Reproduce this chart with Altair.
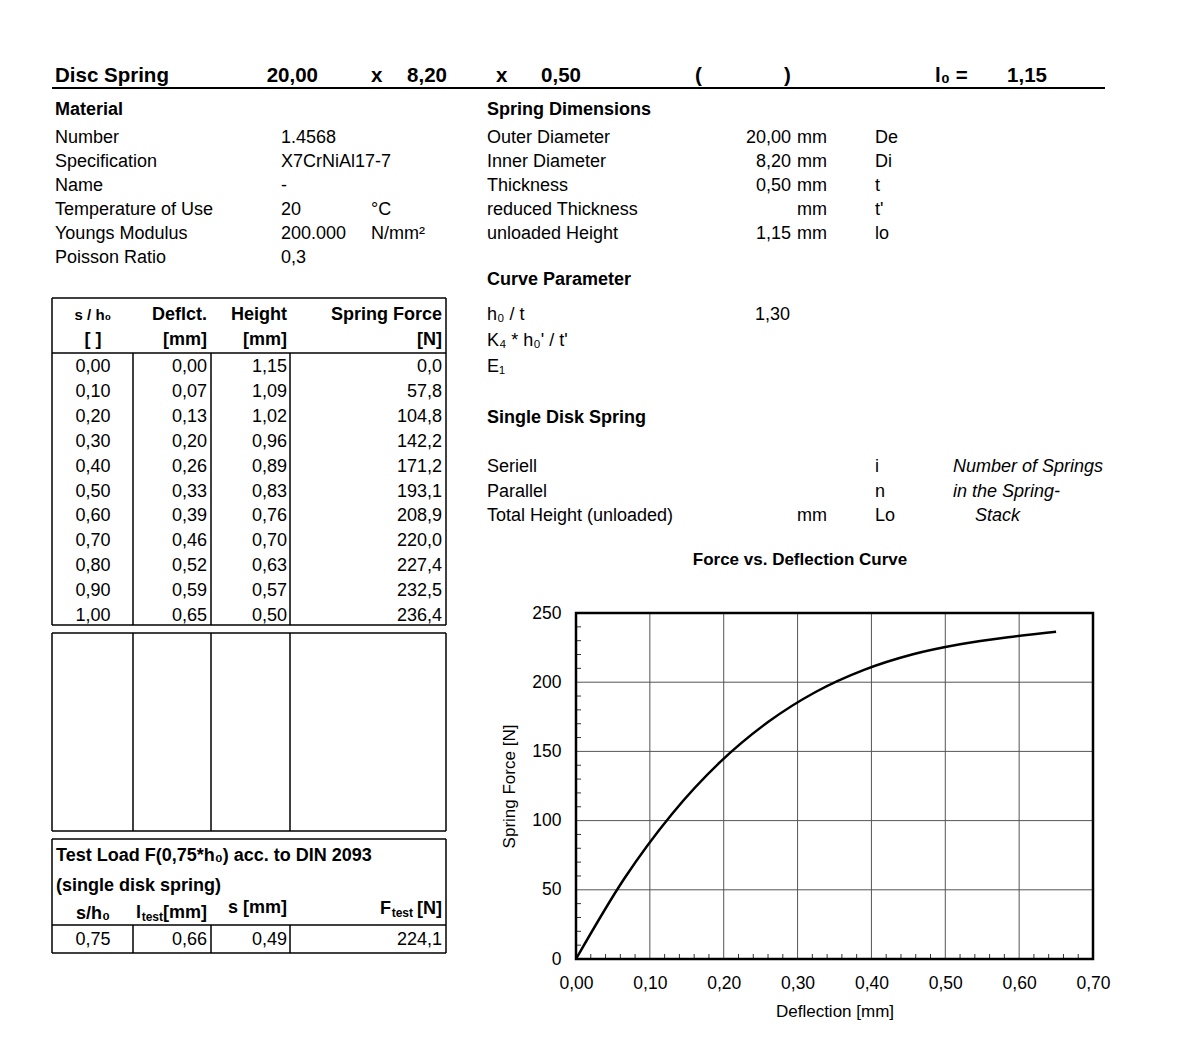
import altair as alt
import pandas as pd

FONT = "Liberation Sans"
BODY = 18

# ---------------- data ----------------
title_text = "Disc Spring"
material_labels = ["Number", "Specification", "Name", "Temperature of Use", "Youngs Modulus", "Poisson Ratio"]
material_values = ["1.4568", "X7CrNiAl17-7", "-", "20", "200.000", "0,3"]
material_units = ["", "", "", "°C", "N/mm²", ""]

dim_labels = ["Outer Diameter", "Inner Diameter", "Thickness", "reduced Thickness", "unloaded Height"]
dim_values = ["20,00", "8,20", "0,50", "", "1,15"]
dim_units = ["mm", "mm", "mm", "mm", "mm"]
dim_symbols = ["De", "Di", "t", "t'", "lo"]

curve_labels = ["h₀ / t", "K₄ * h₀' / t'", "E₁"]
curve_values = ["1,30", "", ""]

stack_labels = ["Seriell", "Parallel", "Total Height (unloaded)"]
stack_units = ["", "", "mm"]
stack_symbols = ["i", "n", "Lo"]
stack_notes = ["Number of Springs", "in the Spring-", "Stack"]

# table (rounded values as printed)
s_h0 = [0.0, 0.1, 0.2, 0.3, 0.4, 0.5, 0.6, 0.7, 0.8, 0.9, 1.0]
deflection = [0.00, 0.07, 0.13, 0.20, 0.26, 0.33, 0.39, 0.46, 0.52, 0.59, 0.65]
height = [1.15, 1.09, 1.02, 0.96, 0.89, 0.83, 0.76, 0.70, 0.63, 0.57, 0.50]
force = [0.0, 57.8, 104.8, 142.2, 171.2, 193.1, 208.9, 220.0, 227.4, 232.5, 236.4]

# curve points as drawn in the chart (unrounded deflection)
curve_deflection = [0.0, 0.065, 0.13, 0.195, 0.26, 0.325, 0.39, 0.455, 0.52, 0.585, 0.65]
curve_force = [0.0, 57.8, 104.8, 142.2, 171.2, 193.1, 208.9, 220.0, 227.4, 232.5, 236.4]

test_title = "Test Load F(0,75*h₀) acc. to DIN 2093"
test_subtitle = "(single disk spring)"
test_s_h0 = 0.75
test_l = 0.66
test_s = 0.49
test_F = 224.1

x_ticks = [0.0, 0.1, 0.2, 0.3, 0.4, 0.5, 0.6, 0.7]
y_ticks = [0, 50, 100, 150, 200, 250]
x_grid = [0.1, 0.2, 0.3, 0.4, 0.5, 0.6]
y_grid = [50, 100, 150, 200]
x_minor = [0.02, 0.04, 0.06, 0.08, 0.12, 0.14, 0.16, 0.18, 0.22, 0.24, 0.26, 0.28,
           0.32, 0.34, 0.36, 0.38, 0.42, 0.44, 0.46, 0.48, 0.52, 0.54, 0.56, 0.58,
           0.62, 0.64, 0.66, 0.68]
y_minor = [10, 20, 30, 40, 60, 70, 80, 90, 110, 120, 130, 140, 160, 170, 180, 190,
           210, 220, 230, 240]

# ---------------- layout ----------------
OX, OY = 576, 613      # page position of plot origin
W, H = 517, 346


def f2(v):
    return f"{v:.2f}".replace(".", ",")


def f1(v):
    return f"{v:.1f}".replace(".", ",")


texts = []


def add(t, x, y, align="left", weight="normal", size=BODY, style="normal"):
    if t == "":
        return
    texts.append(dict(text=t, px=x - OX, py=y - OY, align=align,
                      weight=weight, size=size, style=style))


# header line
HB = 82
HS = 20.5
add(title_text, 55, HB, weight="bold", size=HS)
add(dim_values[0], 318, HB, "right", "bold", HS)
add("x", 371, HB, "left", "bold", HS)
add(dim_values[1], 447, HB, "right", "bold", HS)
add("x", 496, HB, "left", "bold", HS)
add(dim_values[2], 581, HB, "right", "bold", HS)
add("(", 695, HB, "left", "bold", HS)
add(")", 784, HB, "left", "bold", HS)
add("l₀ =", 935, HB, "left", "bold", HS)
add(dim_values[4], 1047, HB, "right", "bold", HS)

# material block
add("Material", 55, 115, weight="bold")
for i, (lab, val, unit) in enumerate(zip(material_labels, material_values, material_units)):
    y = 143 + 24 * i
    add(lab, 55, y)
    add(val, 281, y)
    add(unit, 371, y)

# spring dimensions
add("Spring Dimensions", 487, 115, weight="bold")
for i, (lab, val, unit, sym) in enumerate(zip(dim_labels, dim_values, dim_units, dim_symbols)):
    y = 143 + 24 * i
    add(lab, 487, y)
    add(val, 791, y, "right")
    add(unit, 797, y)
    add(sym, 875, y)

# curve parameter
add("Curve Parameter", 487, 285, weight="bold")
for i, (lab, val) in enumerate(zip(curve_labels, curve_values)):
    y = 320 + 26 * i
    add(lab, 487, y)
    add(val, 790, y, "right")

# single disk spring
add("Single Disk Spring", 487, 423, weight="bold")
for i, (lab, unit, sym, note) in enumerate(zip(stack_labels, stack_units, stack_symbols, stack_notes)):
    y = 472 + 24.5 * i
    add(lab, 487, y)
    add(unit, 797, y)
    add(sym, 875, y)
    add(note, 975 if i == 2 else 953, y, style="italic")

add("Force vs. Deflection Curve", 800, 565, "center", "bold", 17)

# main table
add("s / h₀", 93, 320, "center", "bold", 15)
add("Deflct.", 207, 320, "right", "bold")
add("Height", 287, 320, "right", "bold")
add("Spring Force", 442, 320, "right", "bold")
add("[ ]", 93, 345, "center", "bold")
add("[mm]", 207, 345, "right", "bold")
add("[mm]", 287, 345, "right", "bold")
add("[N]", 442, 345, "right", "bold")
for i in range(len(s_h0)):
    y = 372 + 24.9 * i
    add(f2(s_h0[i]), 93, y, "center")
    add(f2(deflection[i]), 207, y, "right")
    add(f2(height[i]), 287, y, "right")
    add(f1(force[i]), 442, y, "right")

# test load table
add(test_title, 56, 861, weight="bold")
add(test_subtitle, 56, 891, weight="bold")
add("s/h₀", 93, 919, "center", "bold")
add("l", 141, 918, "right", "bold")
add("test", 163, 921, "right", "bold", 12)
add("[mm]", 207, 918, "right", "bold")
add("s [mm]", 287, 913, "right", "bold")
add("F", 391, 914, "right", "bold")
add("test", 413, 917, "right", "bold", 12)
add("[N]", 442, 914, "right", "bold")
add(f2(test_s_h0), 93, 945, "center")
add(f2(test_l), 207, 945, "right")
add(f2(test_s), 287, 945, "right")
add(f1(test_F), 442, 945, "right")

# table lines
segs = []


def seg(x1, y1, x2, y2, w=1.5):
    segs.append(dict(x1=x1 - OX, y1=y1 - OY, x2=x2 - OX, y2=y2 - OY, w=w))


def box(x1, y1, x2, y2):
    seg(x1, y1, x2, y1)
    seg(x1, y2, x2, y2)
    seg(x1, y1, x1, y2)
    seg(x2, y1, x2, y2)


seg(52, 88, 1105, 88, 2.2)
LX, RX = 52, 446
COLS = [133, 211, 290]
box(LX, 298, RX, 625)
seg(LX, 353, RX, 353)
for c in COLS:
    seg(c, 353, c, 625)
box(LX, 633, RX, 831)
for c in COLS:
    seg(c, 633, c, 831)
box(LX, 839, RX, 953)
seg(LX, 925, RX, 925)
for c in COLS:
    seg(c, 925, c, 953)

# ---------------- chart ----------------
xs = alt.Scale(domain=[0, 0.7], nice=False, zero=False)
ys = alt.Scale(domain=[0, 250], nice=False, zero=False)

layers = []

grid_x = alt.Chart(pd.DataFrame({"v": x_grid})).mark_rule(color="#555", strokeWidth=1).encode(
    x=alt.X("v:Q", scale=xs, axis=None), y=alt.value(0), y2=alt.value(H))
grid_y = alt.Chart(pd.DataFrame({"v": y_grid})).mark_rule(color="#555", strokeWidth=1).encode(
    y=alt.Y("v:Q", scale=ys, axis=None), x=alt.value(0), x2=alt.value(W))
minor_x = alt.Chart(pd.DataFrame({"v": x_minor})).mark_rule(color="#333", strokeWidth=1).encode(
    x=alt.X("v:Q", scale=xs, axis=None), y=alt.value(H), y2=alt.value(H - 5))
minor_y = alt.Chart(pd.DataFrame({"v": y_minor})).mark_rule(color="#333", strokeWidth=1).encode(
    y=alt.Y("v:Q", scale=ys, axis=None), x=alt.value(0), x2=alt.value(5))

axis_common = dict(grid=False, ticks=False, domain=False, labelFont=FONT, labelFontSize=17.5,
                   labelColor="black", labelFlush=False, titleFont=FONT, titleFontSize=17,
                   titleFontWeight="normal", titleColor="black")
line = alt.Chart(pd.DataFrame({"deflection": curve_deflection, "force": curve_force})).mark_line(
    color="black", strokeWidth=2.5, interpolate="monotone").encode(
    x=alt.X("deflection:Q", scale=xs,
            axis=alt.Axis(values=x_ticks, labelExpr="replace(format(datum.value, '.2f'), '.', ',')",
                          title="Deflection [mm]", labelPadding=15, titlePadding=12, **axis_common)),
    y=alt.Y("force:Q", scale=ys,
            axis=alt.Axis(values=y_ticks, title="Spring Force [N]", labelPadding=15,
                          titlePadding=13, **axis_common)),
)
border = alt.Chart(pd.DataFrame({"a": [0]})).mark_rect(
    fillOpacity=0, stroke="black", strokeWidth=2.5).encode(
    x=alt.value(0), x2=alt.value(W), y=alt.value(0), y2=alt.value(H))

layers += [grid_x, grid_y, minor_x, minor_y, line, border]

seg_df = pd.DataFrame(segs)
for w, g in seg_df.groupby("w"):
    layers.append(alt.Chart(g).mark_rule(color="black", strokeWidth=float(w)).encode(
        x=alt.X("x1:Q", scale=None, axis=None), x2="x2:Q",
        y=alt.Y("y1:Q", scale=None, axis=None), y2="y2:Q"))

tdf = pd.DataFrame(texts)
for (a, wt, sz, st), g in tdf.groupby(["align", "weight", "size", "style"]):
    layers.append(alt.Chart(g).mark_text(
        align=a, baseline="alphabetic", font=FONT, fontSize=float(sz), fontWeight=wt,
        fontStyle=st, color="black").encode(
        x=alt.X("px:Q", scale=None, axis=None),
        y=alt.Y("py:Q", scale=None, axis=None),
        text="text:N"))

chart = alt.layer(*layers).resolve_scale(x="independent", y="independent").properties(
    width=W, height=H,
    autosize=alt.AutoSizeParams(type="none"),
    padding={"left": OX - 8, "top": OY - 8, "right": 94, "bottom": 70},
    background="white",
).configure_view(stroke="transparent")

chart.save("out.html", embed_options={"renderer": "svg", "actions": False})
